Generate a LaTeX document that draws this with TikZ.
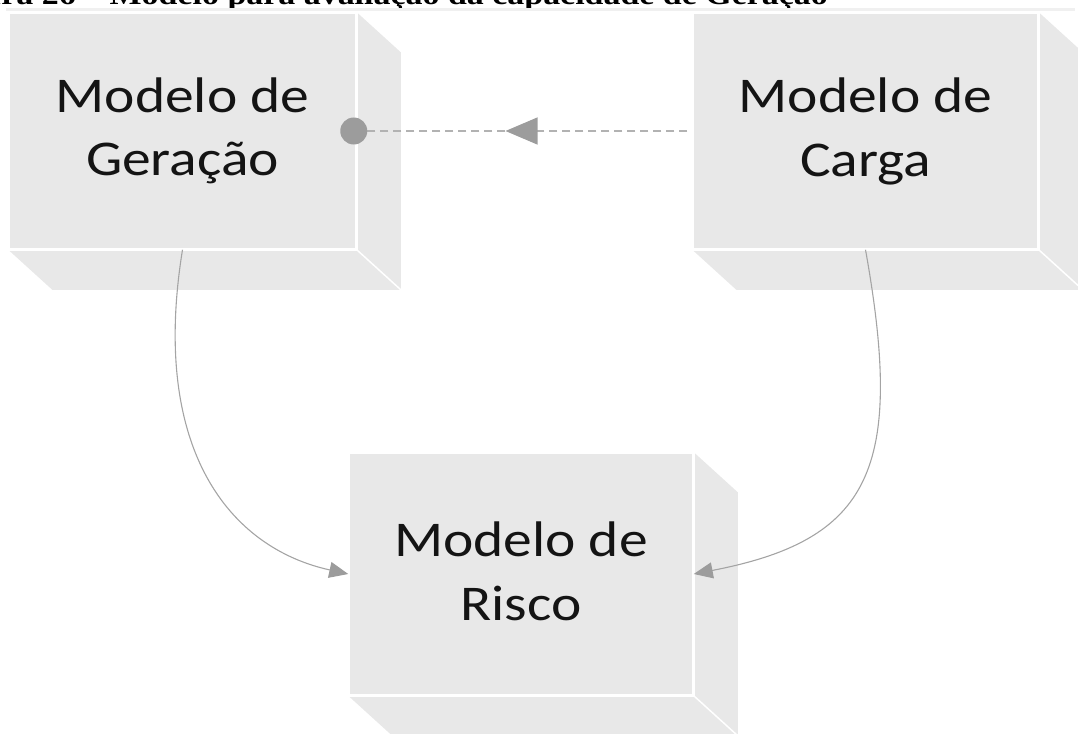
\documentclass[tikz,border=0pt]{standalone}
\usepackage{fontspec}
\usepackage{graphicx}
\usetikzlibrary{arrows.meta,decorations.markings,calc}
\newfontfamily\boxfont{Carlito}
\newfontfamily\capfont{Liberation Serif}
\definecolor{facegray}{HTML}{E8E8E8}
\definecolor{linegray}{HTML}{A4A4A4}
\definecolor{tipgray}{HTML}{9C9C9C}
\begin{document}
\begin{tikzpicture}[x=1pt,y=-1pt,
  face/.style={fill=facegray, draw=white, line width=1.5pt, inner sep=0pt},
  sideface/.style={fill=facegray},
  seam/.style={draw=white, line width=1.5pt},
  lbl/.style={font=\boxfont\fontsize{50}{60}\selectfont, anchor=base, inner sep=0pt, text=black!92},
  conn/.style={draw=linegray, line width=1.1pt, -{Triangle[length=19pt,width=16pt,color=tipgray]}},
  dashline/.style={draw=linegray!85, line width=1.2pt, dash pattern=on 8pt off 5pt,
    postaction={decorate}, decoration={markings,
      mark=at position 0.545 with {\arrow{Triangle[length=32pt,width=27pt,color=tipgray]}}}}
]
\useasboundingbox (0,0) rectangle (1078,733);

% caption (cropped at the top edge, as in the source)
\node[font=\capfont\bfseries\fontsize{29}{30}\selectfont, anchor=base east, inner sep=0pt] (cap) at (828,5)
  {\scalebox{1.17}[1]{Figura 26 – Modelo para avaliação da capacidade de Geração}};
\draw[black!6, line width=2.5pt] (6,9.5) -- (1075,9.5);

% ---------- cubes ----------
% Modelo de Geracao
\node[face, minimum width=347pt, minimum height=236pt] (g) at (182.5,131) {};
% Modelo de Carga
\node[face, minimum width=345pt, minimum height=236pt] (c) at (865.5,131) {};
% Modelo de Risco
\node[face, minimum width=344pt, minimum height=242pt] (r) at (521,574) {};

\foreach \n in {g,c,r}{
  \fill[sideface] (\n.north east) -- ++(44,40) -- ($(\n.south east)+(44,40)$) -- (\n.south east) -- cycle;
  \fill[sideface] (\n.south west) -- ++(44,40) -- ($(\n.south east)+(44,40)$) -- (\n.south east) -- cycle;
  \draw[seam] (\n.north east) -- (\n.south east) -- (\n.south west);
  \draw[seam] (\n.south east) -- ++(44,40);
}

% labels
\node[lbl] (g1) at (182.5,113) {\scalebox{1.15}[1]{Modelo de}};
\node[lbl] (g2) at (182.5,175) {\scalebox{1.15}[1]{Geração}};
\node[lbl] (c1) at (865.5,113) {\scalebox{1.15}[1]{Modelo de}};
\node[lbl] (c2) at (865.5,176) {\scalebox{1.15}[1]{Carga}};
\node[lbl] (r1) at (521,556) {\scalebox{1.15}[1]{Modelo de}};
\node[lbl] (r2) at (521,620) {\scalebox{1.15}[1]{Risco}};

% ---------- connectors ----------
\coordinate (cw) at ([xshift=-5pt]c.west);
\coordinate (ge) at ([xshift=-3pt]g.east);
\draw[dashline] (cw) -- (ge);
\fill[tipgray] (ge) circle (13.5pt);

\draw[conn] (g.south) .. controls (150,450) and (230,548) .. (r.west);
\draw[conn] (c.south) .. controls (905,470) and (870,540) .. (r.east);
\end{tikzpicture}
\end{document}
